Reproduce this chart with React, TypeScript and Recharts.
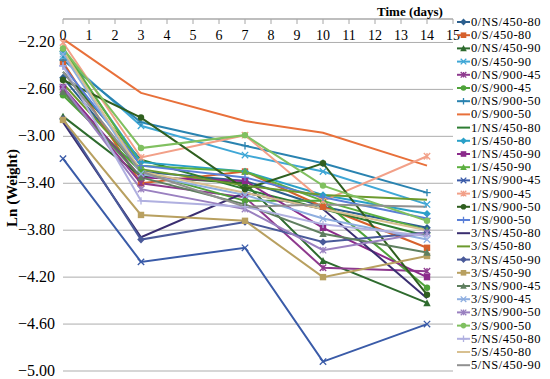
import React from 'react';
import { LineChart, Line, XAxis, YAxis, CartesianGrid, Legend } from 'recharts';

const days = [0, 3, 7, 10, 14];
const xTicks = [0, 1, 2, 3, 4, 5, 6, 7, 8, 9, 10, 11, 12, 13, 14, 15];
const yTicks = [-5.0, -4.6, -4.2, -3.8, -3.4, -3.0, -2.6, -2.2];

const seriesNames = [
  '0/NS/450-80', '0/S/450-80', '0/NS/450-90', '0/S/450-90', '0/NS/900-45', '0/S/900-45',
  '0/NS/900-50', '0/S/900-50', '1/NS/450-80', '1/S/450-80', '1/NS/450-90', '1/S/450-90',
  '1/NS/900-45', '1/S/900-45', '1/NS/900-50', '1/S/900-50', '3/NS/450-80', '3/S/450-80',
  '3/NS/450-90', '3/S/450-90', '3/NS/900-45', '3/S/900-45', '3/NS/900-50', '3/S/900-50',
  '5/NS/450-80', '5/S/450-80', '5/NS/450-90',
];

const v0NS45080 = [-2.50, -3.30, -3.38, -3.60, -3.78];
const v0S45080 = [-2.37, -3.40, -3.30, -3.60, -3.95];
const v0NS45090 = [-2.83, -3.34, -3.40, -4.06, -4.42];
const v0S45090 = [-2.32, -2.91, -3.16, -3.30, -3.58];
const v0NS90045 = [-2.60, -3.40, -3.52, -4.12, -4.15];
const v0S90045 = [-2.65, -3.30, -3.55, -3.55, -4.29];
const v0NS90050 = [-2.35, -2.88, -3.08, -3.23, -3.48];
const v0S90050 = [-2.17, -2.63, -2.87, -2.97, -3.25];
const v1NS45080 = [-2.45, -3.20, -3.45, -3.62, -3.85];
const v1S45080 = [-2.28, -3.22, -3.30, -3.50, -3.66];
const v1NS45090 = [-2.58, -3.35, -3.38, -3.78, -4.20];
const v1S45090 = [-2.25, -3.25, -3.30, -3.55, -3.80];
const v1NS90045 = [-3.19, -4.07, -3.95, -4.92, -4.60];
const v1S90045 = [-2.20, -3.18, -2.99, -3.55, -3.17];
const v1NS90050 = [-2.52, -2.84, -3.45, -3.23, -4.35];
const v1S90050 = [-2.40, -3.25, -3.35, -3.52, -3.70];
const v3NS45080 = [-2.88, -3.86, -3.48, -3.62, -4.38];
const v3S45080 = [-2.55, -3.28, -3.42, -3.50, -3.54];
const v3NS45090 = [-2.85, -3.88, -3.73, -3.90, -3.82];
const v3S45090 = [-2.86, -3.67, -3.72, -4.20, -4.02];
const v3NS90045 = [-2.62, -3.35, -3.58, -3.83, -3.99];
const v3S90045 = [-2.30, -3.32, -3.50, -3.70, -3.88];
const v3NS90050 = [-2.58, -3.45, -3.62, -3.97, -3.82];
const v3S90050 = [-2.25, -3.10, -2.99, -3.42, -3.72];
const v5NS45080 = [-2.40, -3.55, -3.60, -3.75, -3.85];
const v5S45080 = [-2.27, -3.30, -3.48, -3.62, -3.80];
const v5NS45090 = [-2.45, -3.30, -3.60, -3.58, -3.60];

const seriesValues = [
  v0NS45080, v0S45080, v0NS45090, v0S45090, v0NS90045, v0S90045, v0NS90050, v0S90050,
  v1NS45080, v1S45080, v1NS45090, v1S45090, v1NS90045, v1S90045, v1NS90050, v1S90050,
  v3NS45080, v3S45080, v3NS45090, v3S45090, v3NS90045, v3S90045, v3NS90050, v3S90050,
  v5NS45080, v5S45080, v5NS45090,
];

const seriesColors = [
  '#2C5F8E', '#D6602C', '#2E6B2E', '#3FA7D6', '#8E3A8E', '#4FA33A', '#2A83B0', '#E8703A',
  '#2E7D32', '#2AA0C8', '#8B2A8B', '#5DB040', '#3A5BA8', '#F2A088', '#2F5F1F', '#5A7FD8',
  '#3A2E70', '#6C9A2E', '#4A5A9A', '#B8A060', '#5F7F5F', '#8EAEE0', '#9A80C0', '#80C060',
  '#B0B0E0', '#D8C090', '#909090',
];

const markerCycle = ['diamond', 'square', 'triangle', 'x', 'star', 'circle', 'plus', 'none', 'none'];

const FONT = '"Liberation Serif", "Times New Roman", serif';

const data = days.map((d, i) => {
  const row: Record<string, number> = { day: d };
  seriesValues.forEach((vals, k) => {
    row['s' + k] = vals[i];
  });
  return row;
});

function MarkerShape({ type, cx, cy, color, s = 3.2 }: any) {
  if (cx == null || cy == null) return null;
  switch (type) {
    case 'diamond':
      return <path d={`M${cx},${cy - s - 0.6}L${cx + s + 0.6},${cy}L${cx},${cy + s + 0.6}L${cx - s - 0.6},${cy}Z`} fill={color} />;
    case 'square':
      return <rect x={cx - s} y={cy - s} width={2 * s} height={2 * s} fill={color} />;
    case 'triangle':
      return <path d={`M${cx},${cy - s - 0.5}L${cx + s + 0.5},${cy + s}L${cx - s - 0.5},${cy + s}Z`} fill={color} />;
    case 'x':
      return <path d={`M${cx - s},${cy - s}L${cx + s},${cy + s}M${cx + s},${cy - s}L${cx - s},${cy + s}`} stroke={color} strokeWidth={1.3} fill="none" />;
    case 'star':
      return <path d={`M${cx - s},${cy - s}L${cx + s},${cy + s}M${cx + s},${cy - s}L${cx - s},${cy + s}M${cx},${cy - s}L${cx},${cy + s}`} stroke={color} strokeWidth={1.3} fill="none" />;
    case 'circle':
      return <circle cx={cx} cy={cy} r={s} fill={color} />;
    case 'plus':
      return <path d={`M${cx - s - 0.5},${cy}L${cx + s + 0.5},${cy}M${cx},${cy - s - 0.5}L${cx},${cy + s + 0.5}`} stroke={color} strokeWidth={1.3} fill="none" />;
    default:
      return null;
  }
}

const XTick = (props: any) => {
  const { x, payload } = props;
  return (
    <g>
      <line x1={x} x2={x} y1={19} y2={24} stroke="#A6A6A6" strokeWidth={1} />
      <text x={x} y={40} textAnchor="middle" fontFamily={FONT} fontSize={14} fill="#000">
        {payload.value}
      </text>
    </g>
  );
};

const YTick = (props: any) => {
  const { x, y, payload } = props;
  const v = payload.value as number;
  const label = (v < 0 ? '\u2212' : '') + Math.abs(v).toFixed(2);
  return (
    <text x={x} y={y + 5} textAnchor="end" fontFamily={FONT} fontSize={16} fill="#000">
      {label}
    </text>
  );
};

const TimeLabel = () => (
  <text x={410} y={16} textAnchor="middle" fontFamily={FONT} fontSize={13} fontWeight="bold" fill="#000">
    Time (days)
  </text>
);

const LnLabel = () => (
  <text x={17} y={188} textAnchor="middle" fontFamily={FONT} fontSize={15} fontWeight="bold" fill="#000" transform="rotate(-90 17 188)">
    Ln (Weight)
  </text>
);

const LegendContent = () => (
  <svg width={95} height={379} style={{ display: 'block' }}>
    {seriesNames.map((name, i) => {
      const cy = 22 + i * 13.2;
      const type = markerCycle[i % markerCycle.length];
      const color = seriesColors[i];
      return (
        <g key={name}>
          <line x1={2} x2={15} y1={cy} y2={cy} stroke={color} strokeWidth={2} />
          <MarkerShape type={type} cx={8.5} cy={cy} color={color} s={2.8} />
          <text x={16} y={cy + 4} fontFamily={FONT} fontSize={12.5} letterSpacing={0.5} fill="#000">
            {name}
          </text>
        </g>
      );
    })}
  </svg>
);

export default function App() {
  return (
    <div style={{ position: 'absolute', left: 0, top: 0, width: 550, height: 379, background: '#fff' }}>
      <LineChart width={550} height={379} data={data} margin={{ top: 0, right: 97, bottom: 8, left: 8 }}>
        <CartesianGrid horizontal={true} vertical={false} stroke="#ADADAD" strokeWidth={1} />
        <XAxis
          dataKey="day"
          type="number"
          orientation="top"
          domain={[0, 15]}
          ticks={xTicks}
          interval={0}
          height={19}
          axisLine={{ stroke: '#A6A6A6', strokeWidth: 1 }}
          tickLine={false}
          tick={<XTick />}
          label={<TimeLabel />}
        />
        <YAxis
          type="number"
          domain={[-5, -2]}
          ticks={yTicks}
          interval={0}
          width={55}
          axisLine={false}
          tickLine={false}
          tickSize={0}
          tickMargin={8}
          tick={<YTick />}
          label={<LnLabel />}
        />
        <Legend
          layout="vertical"
          align="center"
          verticalAlign="middle"
          content={<LegendContent />}
          wrapperStyle={{ left: 455, top: 0, width: 95, height: 379 }}
        />
        {seriesNames.map((name, k) => {
          const type = markerCycle[k % markerCycle.length];
          const color = seriesColors[k];
          return (
            <Line
              key={name}
              name={name}
              dataKey={'s' + k}
              type="linear"
              stroke={color}
              strokeWidth={2}
              isAnimationActive={false}
              dot={type === 'none' ? false : (p: any) => <MarkerShape key={name + '-' + p.index} type={type} cx={p.cx} cy={p.cy} color={color} />}
              activeDot={false}
            />
          );
        })}
      </LineChart>
    </div>
  );
}
